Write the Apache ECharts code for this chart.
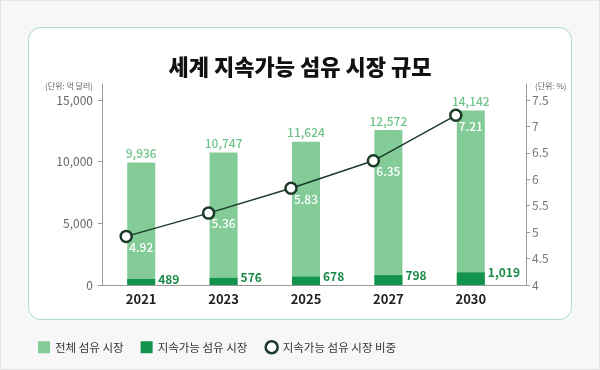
<!DOCTYPE html>
<html>
<head>
<meta charset="utf-8">
<script src="https://cdn.jsdelivr.net/npm/echarts@6/dist/echarts.min.js"></script>
<style>
html,body{margin:0;padding:0;background:#f7f7f7;}
#c{width:600px;height:370px;}
</style>
</head>
<body>
<div id="c"></div>
<script>
const years = ['2021', '2023', '2025', '2027', '2030'];
const totalMarket = [9936, 10747, 11624, 12572, 14142];
const sustainableMarket = [489, 576, 678, 798, 1019];
const sustainableShare = [4.92, 5.36, 5.83, 6.35, 7.21];
const leftTicks = [0, 5000, 10000, 15000];
const rightTicks = [4, 4.5, 5, 5.5, 6, 6.5, 7, 7.5];
const seriesNames = ['전체 섬유 시장', '지속가능 섬유 시장', '지속가능 섬유 시장 비중'];

const FONT = '"Noto Sans CJK KR", "Noto Sans", sans-serif';
const LIGHT = '#83cc98';
const DARK = '#12944f';
const LINE = '#1c3a29';
const fmt = v => Number(v).toLocaleString('en-US');

const chart = echarts.init(document.getElementById('c'), null, {renderer: 'canvas'});
const gTop = 84, gBottom = 85;
chart.setOption({
  backgroundColor: '#f7f7f7',
  animation: false,
  textStyle: {fontFamily: FONT},
  title: {
    text: '세계 지속가능 섬유 시장 규모',
    left: 'center', top: 51,
    textStyle: {fontFamily: FONT, fontSize: 22, fontWeight: 900, color: '#111'}
  },
  graphic: [
    {type: 'rect', z: -10, silent: true, shape: {x: 0.5, y: 0.5, width: 599, height: 369},
     style: {fill: '#f7f7f7', stroke: '#e4e4e4', lineWidth: 1}},
    {type: 'rect', z: -9, silent: true, shape: {x: 28.5, y: 27.5, width: 543, height: 292, r: 12},
     style: {fill: '#ffffff', stroke: '#a9e0c1', lineWidth: 1}}
  ],
  legend: {
    left: 33, top: 335,
    itemWidth: 12, itemHeight: 12, itemGap: 17,
    textStyle: {fontFamily: FONT, fontSize: 11.5, color: '#333'},
    data: [
      {name: seriesNames[0], icon: 'rect'},
      {name: seriesNames[1], icon: 'rect'},
      {name: seriesNames[2], icon: 'circle', itemStyle: {color: '#fff', borderColor: LINE, borderWidth: 2.5}}
    ]
  },
  grid: [
    {left: 102, right: 74, top: gTop, bottom: gBottom, outerBoundsMode: 'none', containLabel: false},
    {left: 100, right: 88, top: gTop, bottom: gBottom, outerBoundsMode: 'none', containLabel: false},
    {left: 85, right: 103, top: gTop, bottom: gBottom, outerBoundsMode: 'none', containLabel: false}
  ],
  xAxis: [
    {type: 'category', gridIndex: 0, data: years,
     axisLine: {show: true, lineStyle: {color: '#9a9a9a', width: 1}},
     axisTick: {show: false}, axisLabel: {show: false}, splitLine: {show: false}},
    {type: 'category', gridIndex: 1, data: years,
     axisLine: {show: false}, axisTick: {show: false}, splitLine: {show: false},
     axisLabel: {margin: 8, fontFamily: FONT, fontSize: 13, fontWeight: 'bold', color: '#222'}},
    {type: 'category', gridIndex: 2, data: years, show: false}
  ],
  yAxis: [
    {type: 'value', gridIndex: 0, position: 'left', min: 0, max: 16300,
     name: '(단위: 억 달러)', nameLocation: 'end', nameGap: -2,
     nameTextStyle: {fontFamily: FONT, fontSize: 8, color: '#666', align: 'right', verticalAlign: 'middle', padding: [0, 9, 0, 0]},
     axisLine: {show: true, lineStyle: {color: '#9a9a9a', width: 1}},
     axisTick: {show: true, length: 4, customValues: leftTicks, lineStyle: {color: '#9a9a9a'}},
     axisLabel: {margin: 9, customValues: leftTicks, formatter: v => fmt(v), fontFamily: FONT, fontSize: 12, color: '#666'},
     splitLine: {show: false}},
    {type: 'value', gridIndex: 0, position: 'right', min: 4, max: 7.803,
     name: '(단위: %)', nameLocation: 'end', nameGap: -2,
     nameTextStyle: {fontFamily: FONT, fontSize: 8, color: '#666', align: 'left', verticalAlign: 'middle', padding: [0, 0, 0, 9]},
     axisLine: {show: true, lineStyle: {color: '#9a9a9a', width: 1}},
     axisTick: {show: true, length: 4, customValues: rightTicks, lineStyle: {color: '#9a9a9a'}},
     axisLabel: {margin: 6, customValues: rightTicks, fontFamily: FONT, fontSize: 12, color: '#777'},
     splitLine: {show: false}},
    {type: 'value', gridIndex: 1, min: 0, max: 16300, show: false, splitLine: {show: false}},
    {type: 'value', gridIndex: 2, min: 4, max: 7.803, show: false, splitLine: {show: false}}
  ],
  series: [
    {name: seriesNames[0], type: 'bar', xAxisIndex: 1, yAxisIndex: 2, data: totalMarket,
     barWidth: 28, barGap: '-100%', itemStyle: {color: LIGHT},
     label: {show: true, position: 'top', distance: 3, formatter: p => fmt(p.value),
             fontFamily: FONT, fontSize: 12, fontWeight: 500, color: '#6cc488'}},
    {name: seriesNames[1], type: 'bar', xAxisIndex: 1, yAxisIndex: 2, data: sustainableMarket,
     barWidth: 28, barGap: '-100%', itemStyle: {color: DARK},
     label: {show: true, position: ['100%', 0], offset: [3, 0], align: 'left', verticalAlign: 'middle',
             formatter: p => fmt(p.value), fontFamily: FONT, fontSize: 12, fontWeight: 'bold', color: '#178a47'}},
    {name: seriesNames[2], type: 'line', xAxisIndex: 2, yAxisIndex: 3, data: sustainableShare,
     symbol: 'circle', symbolSize: 11,
     lineStyle: {color: LINE, width: 1.5},
     itemStyle: {color: '#fff', borderColor: LINE, borderWidth: 2.5},
     label: {show: true, position: 'bottom', distance: 0, offset: [15, -2],
             fontFamily: FONT, fontSize: 12, fontWeight: 500, color: '#fff'}}
  ]
});
</script>
</body>
</html>
